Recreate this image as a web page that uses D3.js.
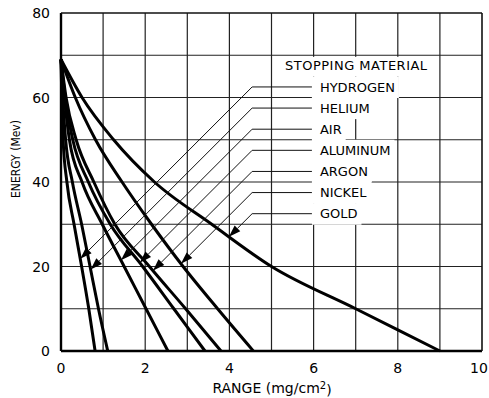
<!DOCTYPE html>
<html>
<head>
<meta charset="utf-8">
<script src="https://cdn.jsdelivr.net/npm/d3@7/dist/d3.min.js"></script>
<style>
  html, body { margin: 0; padding: 0; background: #fff; }
  svg text { font-family: "DejaVu Sans", sans-serif; fill: #000; }
</style>
</head>
<body>
<div id="chart"></div>
<script>
/* Range-energy curves for several stopping materials.
   Each material: range (mg/cm^2) read off at the shared energy levels. */
var energyLevels = [69, 60, 50, 40, 30, 20, 10, 0];
var materials = ['HYDROGEN', 'HELIUM', 'AIR', 'ALUMINUM', 'ARGON', 'NICKEL', 'GOLD'];
var rangeHydrogen = [0, 0.02, 0.05, 0.14, 0.31, 0.49, 0.66, 0.81];
var rangeHelium   = [0, 0.04, 0.11, 0.27, 0.49, 0.69, 0.89, 1.11];
var rangeAir      = [0, 0.08, 0.20, 0.50, 0.98, 1.50, 2.02, 2.54];
var rangeAluminum = [0, 0.10, 0.28, 0.65, 1.17, 1.94, 2.68, 3.42];
var rangeArgon    = [0, 0.12, 0.36, 0.78, 1.28, 2.10, 2.96, 3.80];
var rangeNickel   = [0, 0.34, 0.82, 1.45, 2.15, 2.90, 3.72, 4.57];
var rangeGold     = [0, 0.50, 1.25, 2.22, 3.58, 5.00, 7.00, 9.00];
var xTicks = [0, 2, 4, 6, 8, 10];
var yTicks = [0, 20, 40, 60, 80];

(function () {
  'use strict';

  var W = 489, H = 398;
  var margin = { top: 13, right: 7, bottom: 47, left: 61 };
  var iw = W - margin.left - margin.right;
  var ih = H - margin.top - margin.bottom;

  var svg = d3.select('#chart').append('svg')
    .attr('width', W).attr('height', H);
  var g = svg.append('g')
    .attr('transform', 'translate(' + margin.left + ',' + margin.top + ')');

  var x = d3.scaleLinear().domain([0, 10]).range([0, iw]);
  var y = d3.scaleLinear().domain([0, 80]).range([ih, 0]);

  /* grid: every 1 unit of range, every 10 MeV */
  g.append('g').selectAll('line').data(d3.range(1, 10)).join('line')
    .attr('x1', function (d) { return x(d); }).attr('x2', function (d) { return x(d); })
    .attr('y1', 0).attr('y2', ih)
    .attr('stroke', '#222').attr('stroke-width', 1.2);
  g.append('g').selectAll('line').data(d3.range(10, 80, 10)).join('line')
    .attr('y1', function (d) { return y(d); }).attr('y2', function (d) { return y(d); })
    .attr('x1', 0).attr('x2', iw)
    .attr('stroke', '#222').attr('stroke-width', 1.2);

  /* legend layout (in data units) */
  var titleE = 67.5, rowE0 = 62.5, rowStep = 5;
  var labelR = 6.15, titleR = 5.32, bendR = 4.54, stubR = 5.96;

  var maskG = g.append('g');
  var legendG = g.append('g');

  var title = legendG.append('text')
    .attr('x', x(titleR)).attr('y', y(titleE)).attr('dy', '0.36em')
    .style('font-size', '13px').style('letter-spacing', '0.5px')
    .text('STOPPING MATERIAL');
  var tb = title.node().getBBox();
  var rowH = y(0) - y(rowStep);
  maskG.append('rect')
    .attr('x', tb.x - 4).attr('y', y(titleE) - 9)
    .attr('width', tb.width + 9).attr('height', y(rowE0) - rowH / 2 - (y(titleE) - 9))
    .attr('fill', '#fff');

  var labels = legendG.selectAll('text.lab').data(materials).join('text')
    .attr('class', 'lab')
    .attr('x', x(labelR))
    .attr('y', function (d, i) { return y(rowE0 - i * rowStep); })
    .attr('dy', '0.36em')
    .style('font-size', '13px')
    .text(function (d) { return d; });

  labels.each(function (d, i) {
    var b = this.getBBox();
    var yc = y(rowE0 - i * rowStep);
    maskG.append('rect')
      .attr('x', x(stubR)).attr('y', yc - rowH / 2)
      .attr('width', b.x + b.width + 4 - x(stubR)).attr('height', rowH + 0.5)
      .attr('fill', '#fff');
  });

  /* frame */
  g.append('line').attr('x1', 0).attr('x2', 0).attr('y1', 0).attr('y2', ih)
    .attr('stroke', '#000').attr('stroke-width', 2.4);
  g.append('line').attr('x1', 0).attr('x2', iw).attr('y1', ih).attr('y2', ih)
    .attr('stroke', '#000').attr('stroke-width', 2.4);
  g.append('line').attr('x1', 0).attr('x2', iw).attr('y1', 0).attr('y2', 0)
    .attr('stroke', '#111').attr('stroke-width', 1.6);
  g.append('line').attr('x1', iw).attr('x2', iw).attr('y1', 0).attr('y2', ih)
    .attr('stroke', '#111').attr('stroke-width', 1.6);

  /* curves */
  var series = [rangeHydrogen, rangeHelium, rangeAir, rangeAluminum,
                rangeArgon, rangeNickel, rangeGold];
  var line = d3.line()
    .x(function (d) { return x(d[0]); })
    .y(function (d) { return y(d[1]); })
    .curve(d3.curveMonotoneX);

  var paths = g.append('g').selectAll('path').data(series).join('path')
    .attr('d', function (r) {
      return line(r.map(function (v, i) { return [v, energyLevels[i]]; }));
    })
    .attr('fill', 'none').attr('stroke', '#000').attr('stroke-width', 3)
    .attr('stroke-linejoin', 'round');

  /* leaders: horizontal stub from the label, then 45 deg down-left to the curve */
  var leadG = g.append('g');
  paths.each(function (r, i) {
    var p = this;
    var yc = y(rowE0 - i * rowStep);
    var bx = x(bendR);
    var c = bx + yc;
    var lo = 0, hi = p.getTotalLength();
    for (var k = 0; k < 40; k++) {
      var mid = (lo + hi) / 2;
      var pt = p.getPointAtLength(mid);
      if (pt.x + pt.y < c) lo = mid; else hi = mid;
    }
    var tip = p.getPointAtLength((lo + hi) / 2);
    var s = Math.SQRT1_2, len = 12, hw = 4;
    var baseX = tip.x + len * s, baseY = tip.y - len * s;

    leadG.append('polyline')
      .attr('points', [[x(stubR), yc], [bx, yc], [baseX, baseY]].join(' '))
      .attr('fill', 'none').attr('stroke', '#111').attr('stroke-width', 1);
    leadG.append('polygon')
      .attr('points', [[tip.x, tip.y],
        [baseX + hw * s, baseY + hw * s],
        [baseX - hw * s, baseY - hw * s]].join(' '))
      .attr('fill', '#000');
  });

  /* tick labels */
  g.append('g').selectAll('text').data(xTicks).join('text')
    .attr('x', function (d) { return x(d); })
    .attr('dx', function (d, i) { return i === xTicks.length - 1 ? -3 : 0; })
    .attr('y', ih + 17).attr('dy', '0.36em')
    .attr('text-anchor', 'middle')
    .style('font-size', '14px')
    .text(function (d) { return d; });
  g.append('g').selectAll('text').data(yTicks).join('text')
    .attr('x', -11)
    .attr('y', function (d) { return y(d); }).attr('dy', '0.36em')
    .attr('text-anchor', 'end')
    .style('font-size', '14px')
    .text(function (d) { return d; });

  /* axis titles */
  var xt = svg.append('text')
    .attr('x', 272).attr('y', 388).attr('dy', '0.36em')
    .attr('text-anchor', 'middle')
    .style('font-size', '14px');
  xt.append('tspan').text('RANGE (mg/cm');
  xt.append('tspan').attr('dy', '-0.45em').style('font-size', '10px').text('2');
  xt.append('tspan').attr('dy', '0.45em').text(')');

  svg.append('text')
    .attr('transform', 'translate(15,159) rotate(-90)')
    .attr('dy', '0.36em')
    .attr('text-anchor', 'middle')
    .attr('textLength', 78).attr('lengthAdjust', 'spacingAndGlyphs')
    .style('font-size', '12.5px')
    .text('ENERGY (Mev)');
})();
</script>
</body>
</html>
